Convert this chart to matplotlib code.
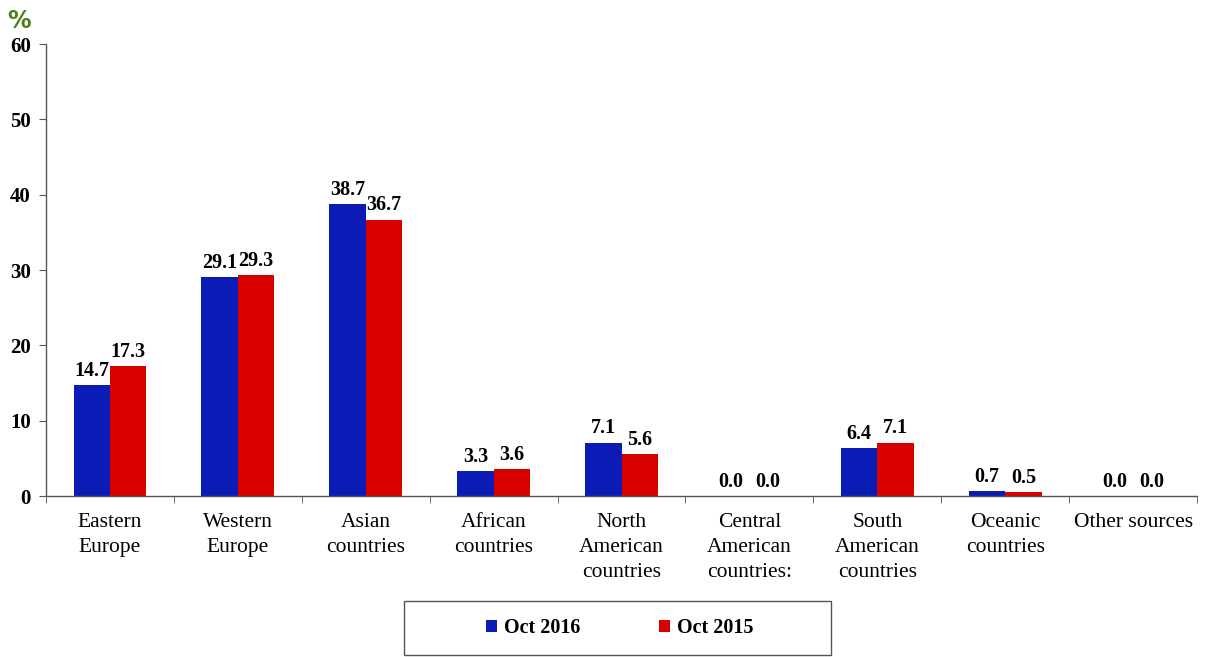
"""Imports by region of origin, Oct 2016 vs Oct 2015 (grouped bars)."""
import matplotlib

matplotlib.use("Agg")
import matplotlib.pyplot as plt
import numpy as np
from matplotlib.patches import Rectangle

plt.rcParams.update({"font.family": ["Liberation Serif", "DejaVu Serif"]})

CATEGORIES = [
    "Eastern\nEurope",
    "Western\nEurope",
    "Asian\ncountries",
    "African\ncountries",
    "North\nAmerican\ncountries",
    "Central\nAmerican\ncountries:",
    "South\nAmerican\ncountries",
    "Oceanic\ncountries",
    "Other sources",
]
OCT_2016 = [14.7, 29.1, 38.7, 3.3, 7.1, 0.0, 6.4, 0.7, 0.0]
OCT_2015 = [17.3, 29.3, 36.7, 3.6, 5.6, 0.0, 7.1, 0.5, 0.0]
YTICKS = [0, 10, 20, 30, 40, 50, 60]

BLUE = "#0A1CB5"
RED = "#D90000"
SPINE = "#555555"

fig = plt.figure(figsize=(12.05, 6.57), dpi=100)
ax = fig.add_axes([0.0382, 0.245, 0.9552, 0.688])

x = np.arange(len(CATEGORIES))
w = 0.285
b1 = ax.bar(x - w / 2, OCT_2016, w, color=BLUE, label="Oct 2016")
b2 = ax.bar(x + w / 2, OCT_2015, w, color=RED, label="Oct 2015")

for bars, vals in ((b1, OCT_2016), (b2, OCT_2015)):
    for rect, v in zip(bars, vals):
        ax.annotate(f"{v:.1f}", (rect.get_x() + rect.get_width() / 2, v),
                    textcoords="offset points", xytext=(0, 3), ha="center", va="bottom",
                    fontsize=14.5, fontweight="bold")

ax.set_xlim(-0.5, len(CATEGORIES) - 0.5)
ax.set_ylim(0, 60)
ax.set_yticks(YTICKS)
ax.set_yticklabels([str(t) for t in YTICKS], fontsize=15, fontweight="bold")
ax.set_xticks(x)
ax.set_xticklabels(CATEGORIES, fontsize=15.5, linespacing=1.44, va="top")
ax.set_xticks(np.arange(len(CATEGORIES) + 1) - 0.5, minor=True)
ax.tick_params(axis="x", which="major", length=0, pad=12)
ax.tick_params(axis="x", which="minor", length=5, direction="out", color=SPINE)
ax.tick_params(axis="y", length=5, direction="out", color=SPINE, pad=6)

for side in ("top", "right"):
    ax.spines[side].set_visible(False)
for side in ("left", "bottom"):
    ax.spines[side].set_color(SPINE)
    ax.spines[side].set_linewidth(1.0)

fig.text(0.006, 0.968, "%", fontsize=17, fontweight="bold", color="#4E7D1E",
         family=["DejaVu Sans"], va="center", ha="left")

# legend box
fig.add_artist(Rectangle((0.3353, 0.003), 0.3543, 0.082, transform=fig.transFigure,
                         fill=False, edgecolor=SPINE, linewidth=1.0))
fig.legend(handles=[b1, b2], loc="center", bbox_to_anchor=(0.514, 0.044), ncol=2,
           frameon=False, handlelength=0.55, handleheight=0.55, handletextpad=0.35,
           columnspacing=3.9, prop={"size": 14.5, "weight": "bold"})

fig.savefig("out.png", dpi=100)
